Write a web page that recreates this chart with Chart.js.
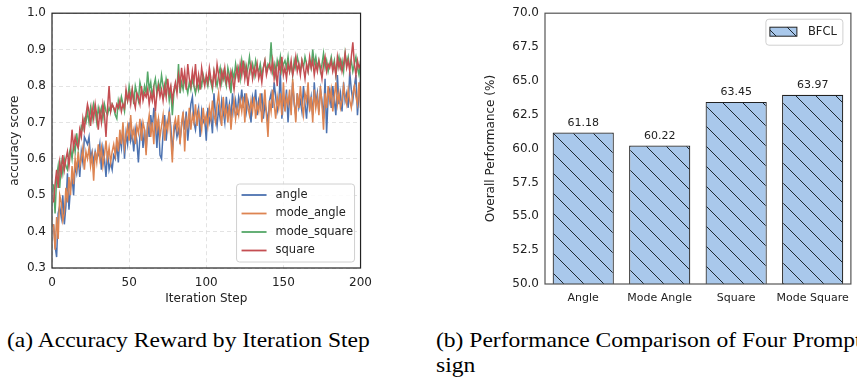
<!DOCTYPE html>
<html>
<head>
<meta charset="utf-8">
<script src="https://cdn.jsdelivr.net/npm/chart.js@4.4.1/dist/chart.umd.min.js"></script>
<style>
html,body{margin:0;padding:0;background:#fff;overflow:hidden;width:857px;height:379px}
#wrapA{position:absolute;left:0;top:0;width:380px;height:310px}
#wrapB{position:absolute;left:440px;top:0;width:417px;height:310px}
.cap{position:absolute;font-family:"Liberation Serif",serif;font-size:22px;line-height:25px;color:#000;white-space:nowrap;transform-origin:0 0;transform:scaleX(1.07)}
</style>
</head>
<body>
<div id="wrapA"><canvas id="accChart" width="380" height="310"></canvas></div>
<div id="wrapB"><canvas id="perfChart" width="417" height="310"></canvas></div>
<div class="cap" style="left:7px;top:327px">(a) Accuracy Reward by Iteration Step</div>
<div class="cap" style="left:436px;top:327px">(b) Performance Comparison of Four Prompt De-<br>sign</div>
<script>
// valores leidos a ojo de la figura (a), un punto por paso 1..200
var angle = [
  0.42,0.36,0.33,0.45,0.47,0.44,0.50,0.42,0.47,0.56,
  0.46,0.52,0.55,0.50,0.58,0.56,0.60,0.55,0.62,0.59,
  0.66,0.65,0.64,0.66,0.60,0.62,0.59,0.62,0.60,0.61,
  0.64,0.57,0.63,0.60,0.55,0.62,0.57,0.59,0.57,0.61,
  0.60,0.64,0.59,0.66,0.63,0.69,0.60,0.67,0.64,0.70,
  0.65,0.67,0.62,0.68,0.65,0.59,0.66,0.69,0.63,0.68,
  0.62,0.70,0.66,0.72,0.68,0.74,0.70,0.63,0.71,0.61,
  0.60,0.67,0.72,0.65,0.70,0.73,0.69,0.62,0.67,0.70,
  0.66,0.68,0.65,0.69,0.72,0.68,0.73,0.65,0.70,0.75,
  0.77,0.70,0.68,0.72,0.74,0.66,0.73,0.70,0.71,0.65,
  0.74,0.70,0.72,0.67,0.78,0.72,0.69,0.74,0.71,0.76,
  0.73,0.70,0.77,0.72,0.75,0.71,0.78,0.73,0.76,0.72,
  0.77,0.75,0.79,0.74,0.78,0.73,0.76,0.74,0.70,0.77,
  0.75,0.79,0.72,0.76,0.74,0.78,0.71,0.75,0.73,0.70,
  0.76,0.78,0.74,0.81,0.77,0.73,0.75,0.84,0.71,0.76,
  0.74,0.79,0.70,0.77,0.74,0.81,0.75,0.72,0.78,0.74,
  0.76,0.73,0.80,0.75,0.71,0.78,0.74,0.77,0.72,0.81,
  0.75,0.78,0.73,0.79,0.76,0.71,0.82,0.67,0.77,0.79,
  0.74,0.80,0.76,0.72,0.83,0.75,0.78,0.73,0.81,0.76,
  0.78,0.74,0.84,0.79,0.76,0.80,0.83,0.72,0.78,0.82
];
var modeAngle = [
  0.42,0.35,0.44,0.38,0.50,0.48,0.43,0.45,0.52,0.48,
  0.55,0.50,0.58,0.53,0.60,0.57,0.62,0.58,0.60,0.63,
  0.57,0.62,0.60,0.63,0.58,0.61,0.54,0.62,0.59,0.64,
  0.60,0.63,0.58,0.61,0.65,0.60,0.63,0.59,0.62,0.64,
  0.61,0.66,0.62,0.68,0.64,0.70,0.63,0.66,0.69,0.65,
  0.72,0.66,0.68,0.64,0.69,0.67,0.71,0.65,0.70,0.68,
  0.61,0.69,0.72,0.66,0.70,0.64,0.73,0.68,0.71,0.66,
  0.69,0.72,0.65,0.70,0.68,0.73,0.66,0.59,0.69,0.71,
  0.68,0.72,0.64,0.70,0.73,0.62,0.71,0.69,0.74,0.68,
  0.72,0.70,0.75,0.69,0.73,0.71,0.68,0.74,0.70,0.72,
  0.69,0.74,0.71,0.76,0.72,0.70,0.75,0.78,0.73,0.69,
  0.77,0.72,0.74,0.70,0.75,0.68,0.73,0.76,0.71,0.74,
  0.72,0.76,0.73,0.77,0.70,0.78,0.74,0.72,0.76,0.73,
  0.77,0.71,0.75,0.73,0.78,0.70,0.74,0.79,0.72,0.66,
  0.76,0.73,0.79,0.75,0.71,0.77,0.74,0.78,0.72,0.81,
  0.73,0.77,0.75,0.79,0.72,0.82,0.76,0.70,0.78,0.74,
  0.80,0.75,0.72,0.78,0.76,0.81,0.73,0.77,0.70,0.79,
  0.74,0.77,0.72,0.80,0.75,0.68,0.78,0.74,0.80,0.76,
  0.79,0.73,0.77,0.81,0.75,0.78,0.74,0.76,0.80,0.77,
  0.75,0.79,0.76,0.74,0.78,0.80,0.77,0.75,0.81,0.74
];
var modeSquare = [
  0.53,0.45,0.55,0.58,0.52,0.59,0.56,0.60,0.58,0.57,
  0.61,0.63,0.60,0.64,0.62,0.67,0.63,0.66,0.69,0.68,
  0.71,0.70,0.73,0.70,0.74,0.71,0.75,0.73,0.70,0.74,
  0.72,0.74,0.71,0.75,0.73,0.72,0.74,0.73,0.75,0.74,
  0.72,0.71,0.76,0.74,0.77,0.75,0.73,0.78,0.76,0.80,
  0.77,0.79,0.75,0.80,0.78,0.76,0.81,0.79,0.77,0.80,
  0.78,0.84,0.79,0.81,0.77,0.80,0.82,0.78,0.81,0.79,
  0.83,0.80,0.78,0.82,0.80,0.76,0.79,0.72,0.78,0.80,
  0.79,0.86,0.78,0.81,0.79,0.82,0.80,0.78,0.81,0.79,
  0.82,0.80,0.78,0.81,0.79,0.82,0.80,0.83,0.81,0.82,
  0.80,0.83,0.81,0.79,0.84,0.82,0.80,0.83,0.85,0.81,
  0.84,0.82,0.80,0.85,0.83,0.78,0.84,0.82,0.86,0.83,
  0.85,0.82,0.87,0.84,0.86,0.83,0.85,0.88,0.84,0.86,
  0.83,0.87,0.85,0.84,0.86,0.83,0.85,0.87,0.84,0.86,
  0.85,0.92,0.84,0.86,0.83,0.87,0.85,0.88,0.84,0.86,
  0.87,0.85,0.88,0.84,0.86,0.83,0.87,0.85,0.88,0.86,
  0.84,0.87,0.85,0.88,0.86,0.84,0.87,0.85,0.90,0.86,
  0.88,0.85,0.87,0.84,0.86,0.89,0.85,0.87,0.84,0.86,
  0.88,0.85,0.87,0.83,0.86,0.88,0.85,0.87,0.84,0.89,
  0.86,0.88,0.85,0.87,0.84,0.86,0.88,0.85,0.83,0.87
];
var square = [
  0.48,0.53,0.57,0.52,0.59,0.56,0.61,0.57,0.60,0.62,
  0.58,0.62,0.68,0.63,0.66,0.64,0.63,0.68,0.66,0.71,
  0.68,0.72,0.75,0.73,0.69,0.74,0.71,0.75,0.72,0.68,
  0.73,0.70,0.75,0.72,0.66,0.74,0.80,0.73,0.75,0.74,
  0.73,0.75,0.74,0.76,0.73,0.75,0.74,0.79,0.76,0.78,
  0.75,0.79,0.76,0.74,0.78,0.77,0.75,0.80,0.76,0.78,
  0.77,0.79,0.75,0.78,0.76,0.79,0.73,0.78,0.80,0.77,
  0.79,0.76,0.80,0.77,0.82,0.78,0.80,0.76,0.79,0.81,
  0.78,0.83,0.80,0.85,0.81,0.84,0.79,0.86,0.82,0.80,
  0.84,0.81,0.86,0.80,0.83,0.79,0.85,0.82,0.80,0.83,
  0.81,0.85,0.82,0.80,0.84,0.81,0.86,0.83,0.80,0.84,
  0.82,0.85,0.81,0.83,0.80,0.84,0.82,0.79,0.83,0.85,
  0.81,0.86,0.83,0.87,0.82,0.85,0.80,0.84,0.86,0.82,
  0.85,0.83,0.86,0.82,0.84,0.81,0.85,0.87,0.83,0.85,
  0.86,0.84,0.87,0.82,0.85,0.80,0.86,0.84,0.88,0.83,
  0.85,0.82,0.86,0.84,0.87,0.83,0.85,0.88,0.84,0.86,
  0.83,0.87,0.85,0.82,0.86,0.84,0.88,0.85,0.87,0.83,
  0.86,0.84,0.87,0.85,0.82,0.86,0.88,0.84,0.86,0.85,
  0.87,0.84,0.86,0.83,0.88,0.85,0.87,0.84,0.86,0.89,
  0.85,0.87,0.84,0.88,0.92,0.86,0.83,0.87,0.85,0.86
];
var steps = angle.map(function(v, i){ return i + 1; });

// figura (b)
var promptNames = ['Angle', 'Mode Angle', 'Square', 'Mode Square'];
var bfcl = [61.18, 60.22, 63.45, 63.97];

var FONT = '"DejaVu Sans", sans-serif';
var TXT = '#222';

function pts(arr){ return arr.map(function(v, i){ return {x: steps[i], y: v}; }); }

// marco alrededor del area de dibujo
function framePlugin(color){
  return {
    id: 'frame',
    afterDraw: function(chart){
      var a = chart.chartArea, c = chart.ctx;
      c.save();
      c.strokeStyle = color; c.lineWidth = 1.2;
      c.strokeRect(a.left, a.top, a.right - a.left, a.bottom - a.top);
      c.restore();
    }
  };
}

// leyenda dentro del grafico (abajo a la derecha)
var lineLegend = {
  id: 'lineLegend',
  afterDraw: function(chart){
    var a = chart.chartArea, c = chart.ctx;
    var w = 118, h = 78;
    var x0 = a.right - w - 6, y0 = a.bottom - h - 6;
    c.save();
    c.fillStyle = 'rgba(255,255,255,0.85)';
    c.strokeStyle = '#d0d0d0'; c.lineWidth = 1;
    c.beginPath(); c.roundRect(x0, y0, w, h, 3); c.fill(); c.stroke();
    c.font = '11.5px ' + FONT; c.textBaseline = 'middle'; c.fillStyle = TXT;
    chart.data.datasets.forEach(function(ds, i){
      var y = y0 + 11 + i * 18.5;
      c.strokeStyle = ds.borderColor; c.lineWidth = 1.8;
      c.beginPath(); c.moveTo(x0 + 5, y); c.lineTo(x0 + 30, y); c.stroke();
      c.fillText(ds.label, x0 + 39, y);
    });
    c.restore();
  }
};

new Chart(document.getElementById('accChart'), {
  type: 'line',
  data: {
    datasets: [
      {label: 'angle', data: pts(angle), borderColor: '#4c72b0', order: 4},
      {label: 'mode_angle', data: pts(modeAngle), borderColor: '#dd8452', order: 3},
      {label: 'mode_square', data: pts(modeSquare), borderColor: '#55a868', order: 2},
      {label: 'square', data: pts(square), borderColor: '#c44e52', order: 1}
    ]
  },
  options: {
    responsive: false,
    animation: false,
    layout: {padding: {top: 11, right: 17, left: 4, bottom: 0}},
    elements: {line: {borderWidth: 1.5, tension: 0}, point: {radius: 0}},
    plugins: {legend: {display: false}, tooltip: {enabled: false}},
    scales: {
      x: {
        type: 'linear', min: 0, max: 200,
        afterFit: function(s){ s.height = 42; },
        ticks: {stepSize: 50, color: TXT, font: {family: FONT, size: 12}, padding: 8},
        grid: {color: '#dcdcdc', lineWidth: 0.8, drawTicks: false},
        border: {dash: [4, 3], display: false},
        title: {display: true, text: 'Iteration Step', color: TXT, font: {family: FONT, size: 12}, padding: {top: 1}}
      },
      y: {
        min: 0.3, max: 1.0,
        afterFit: function(s){ s.width = 48; },
        ticks: {stepSize: 0.1, color: TXT, font: {family: FONT, size: 12}, padding: 6,
          callback: function(v){ return v.toFixed(1); }},
        grid: {color: '#dcdcdc', lineWidth: 0.8, drawTicks: false},
        border: {dash: [4, 3], display: false},
        title: {display: true, text: 'accuracy score', color: TXT, font: {family: FONT, size: 12}, padding: {bottom: 2}}
      }
    }
  },
  plugins: [framePlugin('#222'), lineLegend]
});

// relleno rayado tipo hatch '\\'
function makeHatch(bg){
  var cv = document.createElement('canvas');
  cv.width = 20; cv.height = 20;
  var g = cv.getContext('2d');
  g.fillStyle = bg; g.fillRect(0, 0, 20, 20);
  g.strokeStyle = '#1c2630'; g.lineWidth = 1;
  g.beginPath();
  g.moveTo(-5, -5); g.lineTo(25, 25);
  g.moveTo(-5, 15); g.lineTo(5, 25);
  g.moveTo(15, -5); g.lineTo(25, 5);
  g.stroke();
  return g.createPattern(cv, 'repeat');
}

var valueLabels = {
  id: 'valueLabels',
  afterDatasetsDraw: function(chart){
    var c = chart.ctx, meta = chart.getDatasetMeta(0);
    c.save();
    c.font = '11px ' + FONT; c.fillStyle = TXT;
    c.textAlign = 'center'; c.textBaseline = 'bottom';
    meta.data.forEach(function(bar, i){
      c.fillText(chart.data.datasets[0].data[i].toFixed(2), bar.x, bar.y - 4);
    });
    c.restore();
  }
};

var barLegend = {
  id: 'barLegend',
  afterDraw: function(chart){
    var a = chart.chartArea, c = chart.ctx;
    var w = 77, h = 26;
    var x0 = a.right - w - 8, y0 = a.top + 6;
    c.save();
    c.fillStyle = 'rgba(255,255,255,0.85)';
    c.strokeStyle = '#d0d0d0'; c.lineWidth = 1;
    c.beginPath(); c.roundRect(x0, y0, w, h, 3); c.fill(); c.stroke();
    c.fillStyle = chart.data.datasets[0].backgroundColor;
    c.fillRect(x0 + 4, y0 + 8, 27, 9);
    c.strokeStyle = '#222'; c.strokeRect(x0 + 4, y0 + 8, 27, 9);
    c.font = '11.5px ' + FONT; c.fillStyle = TXT; c.textBaseline = 'middle';
    c.fillText(chart.data.datasets[0].label, x0 + 42, y0 + 13);
    c.restore();
  }
};

new Chart(document.getElementById('perfChart'), {
  type: 'bar',
  data: {
    labels: promptNames,
    datasets: [{
      label: 'BFCL', data: bfcl,
      backgroundColor: makeHatch('#a9c8eb'),
      borderColor: '#222', borderWidth: 1.2, borderSkipped: false,
      categoryPercentage: 1.0, barPercentage: 0.8
    }]
  },
  options: {
    responsive: false,
    animation: false,
    layout: {padding: {top: 11, right: 2, left: 40, bottom: 0}},
    plugins: {legend: {display: false}, tooltip: {enabled: false}},
    scales: {
      x: {
        afterFit: function(s){ s.height = 26; },
        ticks: {color: TXT, font: {family: FONT, size: 11}, padding: 8,
          maxRotation: 0, minRotation: 0, autoSkip: false},
        grid: {display: false, drawTicks: false},
        border: {display: false}
      },
      y: {
        min: 50, max: 70,
        afterFit: function(s){ s.width = 65; },
        ticks: {stepSize: 2.5, color: TXT, font: {family: FONT, size: 12}, padding: 6,
          callback: function(v){ return v.toFixed(1); }},
        grid: {display: false, drawTicks: false},
        border: {display: false},
        title: {display: true, text: 'Overall Performance (%)', color: TXT, font: {family: FONT, size: 12}, padding: {bottom: 2}}
      }
    }
  },
  plugins: [framePlugin('#555'), valueLabels, barLegend]
});
</script>
</body>
</html>
